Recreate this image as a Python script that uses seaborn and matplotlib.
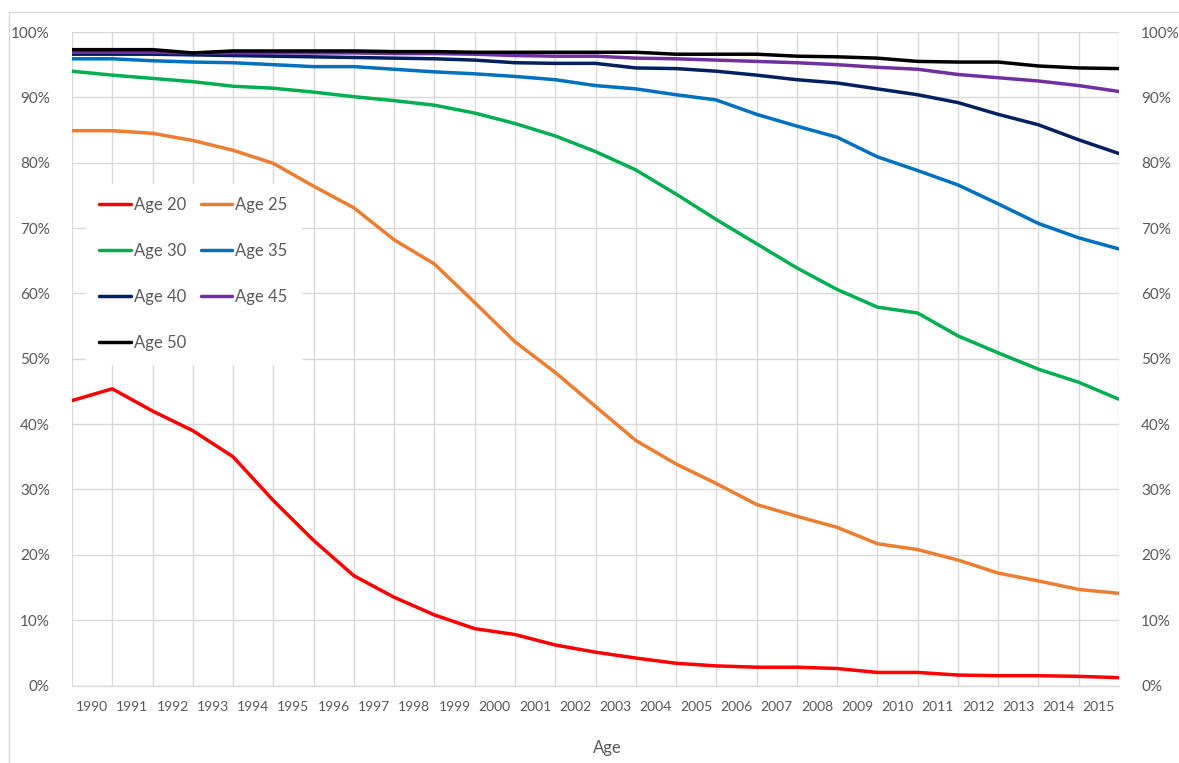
import matplotlib
matplotlib.use("Agg")
import matplotlib.pyplot as plt
import matplotlib.ticker as mticker
from matplotlib.lines import Line2D
import seaborn as sns
import pandas as pd
import numpy as np

# category labels (drawn between the gridlines)
years = ['1990', '1991', '1992', '1993', '1994', '1995', '1996', '1997', '1998',
         '1999', '2000', '2001', '2002', '2003', '2004', '2005', '2006', '2007',
         '2008', '2009', '2010', '2011', '2012', '2013', '2014', '2015']

# values in percent, one per gridline (27 points)
age_20 = [43.6, 45.4, 42.0, 39.0, 35.0, 28.3, 22.2, 16.8, 13.5, 10.8, 8.7, 7.8, 6.2, 5.1,
          4.2, 3.4, 3.0, 2.8, 2.8, 2.6, 2.0, 2.0, 1.6, 1.5, 1.5, 1.4, 1.2]
age_25 = [84.9, 84.9, 84.5, 83.4, 81.9, 79.9, 76.4, 73.1, 68.2, 64.5, 58.6, 52.6, 47.9, 42.7,
          37.5, 33.9, 30.9, 27.7, 25.9, 24.2, 21.7, 20.8, 19.2, 17.2, 16.0, 14.7, 14.1]
age_30 = [94.0, 93.4, 92.9, 92.4, 91.7, 91.4, 90.8, 90.1, 89.5, 88.8, 87.6, 86.0, 84.1, 81.7,
          78.9, 75.2, 71.3, 67.6, 63.9, 60.6, 57.9, 57.0, 53.5, 50.9, 48.4, 46.4, 43.8]
age_35 = [95.9, 95.9, 95.6, 95.4, 95.3, 95.0, 94.7, 94.7, 94.3, 93.9, 93.6, 93.2, 92.7, 91.8,
          91.3, 90.4, 89.6, 87.4, 85.6, 83.9, 80.9, 78.8, 76.6, 73.7, 70.7, 68.5, 66.8]
age_40 = [96.6, 96.6, 96.6, 96.5, 96.4, 96.3, 96.2, 96.1, 96.0, 95.9, 95.7, 95.3, 95.2, 95.2,
          94.5, 94.4, 94.0, 93.4, 92.7, 92.2, 91.3, 90.4, 89.2, 87.4, 85.8, 83.5, 81.4]
age_45 = [96.9, 96.9, 96.9, 96.8, 96.8, 96.8, 96.8, 96.8, 96.7, 96.7, 96.6, 96.4, 96.3, 96.3,
          96.0, 95.9, 95.7, 95.5, 95.3, 95.0, 94.6, 94.3, 93.5, 93.0, 92.5, 91.8, 90.9]
age_50 = [97.3, 97.3, 97.3, 96.8, 97.1, 97.1, 97.1, 97.1, 97.0, 97.0, 96.9, 96.9, 96.9, 96.9,
          96.9, 96.6, 96.6, 96.6, 96.3, 96.2, 96.0, 95.5, 95.4, 95.4, 94.8, 94.5, 94.4]

series = {'Age 20': age_20, 'Age 25': age_25, 'Age 30': age_30, 'Age 35': age_35,
          'Age 40': age_40, 'Age 45': age_45, 'Age 50': age_50}
colors = {'Age 20': '#FF0000', 'Age 25': '#ED7D31', 'Age 30': '#00B050', 'Age 35': '#0070C0',
          'Age 40': '#002060', 'Age 45': '#7030A0', 'Age 50': '#000000'}

rows = []
for name, vals in series.items():
    for i, v in enumerate(vals):
        rows.append({'pos': i, 'share': v, 'series': name})
df = pd.DataFrame(rows)

sns.set_style("white")
plt.rcParams['font.family'] = ['Lato', 'DejaVu Sans']
grey_text = '#595959'
grid_col = '#d9d9d9'

fig = plt.figure(figsize=(11.79, 7.63), dpi=100)
ax = fig.add_axes([72 / 1179, 1 - 685.5 / 763, 1047 / 1179, 653.5 / 763])
sns.lineplot(data=df, x='pos', y='share', hue='series', palette=colors,
             linewidth=2.5, ax=ax, legend=False, sort=False)

n_pts = len(age_20)
ax.set_xlim(0, n_pts - 1)
ax.set_ylim(0, 100)
ax.set_xticks(np.arange(n_pts))
ax.set_xticklabels([])
ax.set_xticks(np.arange(len(years)) + 0.5, minor=True)
ax.set_xticklabels(years, minor=True)
ax.set_yticks(range(0, 101, 10))
ax.yaxis.set_major_formatter(mticker.FuncFormatter(lambda v, p: f'{v:.0f}%'))
ax.grid(True, which='major', color=grid_col, linewidth=1.0)
ax.set_axisbelow(True)
ax.tick_params(axis='x', which='major', length=5, width=1, color=grid_col, direction='out')
ax.tick_params(axis='x', which='minor', length=0, labelsize=10, labelcolor=grey_text, pad=11)
ax.tick_params(axis='y', length=0, labelsize=11, labelcolor=grey_text, pad=16)
for s in ['top', 'left', 'right']:
    ax.spines[s].set_visible(False)
ax.spines['bottom'].set_color(grid_col)
ax.spines['bottom'].set_linewidth(1.0)
ax.set_ylabel('')
ax.set_xlabel('Age', fontsize=12, color=grey_text)
ax.xaxis.set_label_coords(0.511, -0.083)

ax2 = ax.twinx()
ax2.set_ylim(0, 100)
ax2.set_yticks(range(0, 101, 10))
ax2.yaxis.set_major_formatter(mticker.FuncFormatter(lambda v, p: f'{v:.0f}%'))
ax2.tick_params(axis='y', length=0, labelsize=11, labelcolor=grey_text, pad=16)
for s in ax2.spines.values():
    s.set_visible(False)

order = ['Age 20', 'Age 30', 'Age 40', 'Age 50', 'Age 25', 'Age 35', 'Age 45']
handles = [Line2D([], [], color=colors[k], linewidth=2.5) for k in order]
leg = ax2.legend(handles, order, loc='upper left', bbox_to_anchor=(0.0134, 0.768),
                 ncol=2, frameon=True, fancybox=False, framealpha=1, edgecolor='white',
                 fontsize=12, handlelength=1.9, handletextpad=0.15, labelspacing=1.8,
                 columnspacing=0.9, borderpad=0.8, borderaxespad=0)
for t in leg.get_texts():
    t.set_color(grey_text)

# chart-area border (only left/top edges visible in the crop)
fig.add_artist(Line2D([9.5 / 1179, 9.5 / 1179], [0, 1 - 12 / 763], color=grid_col,
                      linewidth=1, transform=fig.transFigure))
fig.add_artist(Line2D([9.5 / 1179, 1], [1 - 12 / 763, 1 - 12 / 763], color=grid_col,
                      linewidth=1, transform=fig.transFigure))

fig.savefig('out.png', dpi=100)
